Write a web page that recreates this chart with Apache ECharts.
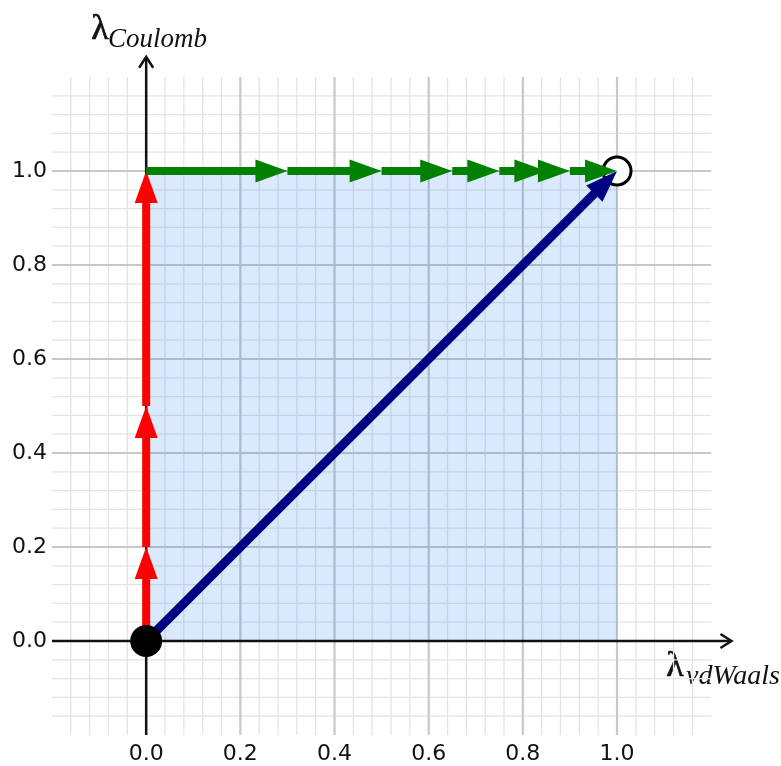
<!DOCTYPE html>
<html>
<head>
<meta charset="utf-8">
<script src="https://cdn.jsdelivr.net/npm/echarts@6/dist/echarts.min.js"></script>
<style>
html,body{margin:0;padding:0;background:#fff;}
#chart{width:781px;height:766px;}
</style>
</head>
<body>
<div id="chart"></div>
<script>
// ---- data ----
const tickLabels = [0.0, 0.2, 0.4, 0.6, 0.8, 1.0];
const majorTicks = [0.0, 0.2, 0.4, 0.6, 0.8, 1.0];
const minorTicks = [-0.16, -0.12, -0.08, -0.04, 0.04, 0.08, 0.12, 0.16, 0.24, 0.28, 0.32, 0.36,
  0.44, 0.48, 0.52, 0.56, 0.64, 0.68, 0.72, 0.76, 0.84, 0.88, 0.92, 0.96, 1.04, 1.08, 1.12, 1.16];
const gridExtent = [-0.2, 1.2];
const axisExtent = [-0.2, 1.243];
const fillRegion = [[0, 0], [1, 1]];
const redPath = [[0, 0], [0, 0.2], [0, 0.5], [0, 1.0]];
const greenPath = [[0, 1], [0.3, 1], [0.5, 1], [0.65, 1], [0.75, 1], [0.85, 1], [0.9, 1], [1.0, 1]];
const bluePath = [[0, 0], [1, 1]];
const startPoint = [[0, 0]];
const endPoint = [[1, 1]];

function toSegments(path) {
  const out = [];
  for (let i = 1; i < path.length; i++) out.push([path[i-1][0], path[i-1][1], path[i][0], path[i][1]]);
  return out;
}

function arrowSeries(path, color, width, z) {
  return {
    type: 'custom', z: z, silent: true,
    data: toSegments(path),
    renderItem: function (params, api) {
      const p0 = api.coord([api.value(0), api.value(1)]);
      const p1 = api.coord([api.value(2), api.value(3)]);
      const dx = p1[0] - p0[0], dy = p1[1] - p0[1];
      const L = Math.sqrt(dx*dx + dy*dy);
      const ux = dx / L, uy = dy / L;
      const headLen = 32, hw = 11.5;
      const bx = p1[0] - ux*headLen, by = p1[1] - uy*headLen;
      const children = [];
      if (L > headLen) {
        children.push({
          type: 'line',
          shape: {x1: p0[0], y1: p0[1], x2: bx + ux*1, y2: by + uy*1},
          style: {stroke: color, lineWidth: width, lineCap: 'butt'}
        });
      }
      children.push({
        type: 'polygon',
        shape: {points: [[p1[0], p1[1]], [bx - uy*hw, by + ux*hw], [bx + uy*hw, by - ux*hw]]},
        style: {fill: color}
      });
      return {type: 'group', children: children};
    }
  };
}

const chart = echarts.init(document.getElementById('chart'), null, {renderer: 'canvas'});

const labelFmt = function (v) {
  const r = Math.round(v * 10) / 10;
  return tickLabels.some(t => Math.abs(t - r) < 1e-9) && Math.abs(v - r) < 1e-9 ? r.toFixed(1) : '';
};

const option = {
  backgroundColor: '#ffffff',
  animation: false,
  grid: {left: 52, right: 46.25, top: 53.5, bottom: 31, containLabel: false, outerBoundsMode: 'none'},
  xAxis: {
    type: 'value', min: -0.2, max: 1.25, interval: 0.2,
    axisLine: {show: false}, axisTick: {show: false}, splitLine: {show: false},
    axisLabel: {formatter: labelFmt, fontFamily: 'DejaVu Sans', fontSize: 22, color: '#111', margin: 8, showMaxLabel: false}
  },
  yAxis: {
    type: 'value', min: -0.2, max: 1.25, interval: 0.2,
    axisLine: {show: false}, axisTick: {show: false}, splitLine: {show: false},
    axisLabel: {formatter: labelFmt, fontFamily: 'DejaVu Sans', fontSize: 22, color: '#111', margin: 5, showMaxLabel: false}
  },
  graphic: [
    {type: 'text', left: 91, top: 11, silent: true,
     style: {text: 'λ', font: '36px "Liberation Serif"', fill: '#111', stroke: '#111', lineWidth: 0.7}},
    {type: 'text', left: 108, top: 26, silent: true,
     style: {text: 'Coulomb', font: 'italic 27px "Liberation Serif"', fill: '#111'}},
    {type: 'text', left: 666, top: 648, silent: true,
     style: {text: 'λ', font: '36px "Liberation Serif"', fill: '#111', stroke: '#111', lineWidth: 0.7}},
    {type: 'text', left: 686, top: 663, silent: true,
     style: {text: 'vdWaals', font: 'italic 28px "Liberation Serif"', fill: '#111'}}
  ],
  series: [
    { // grid lines
      type: 'custom', z: 1, silent: true, data: [[0]],
      renderItem: function (params, api) {
        const ch = [];
        const addV = (x, color, w) => {
          const a = api.coord([x, gridExtent[0]]), b = api.coord([x, gridExtent[1]]);
          ch.push({type: 'line', shape: {x1: a[0], y1: a[1], x2: b[0], y2: b[1]}, style: {stroke: color, lineWidth: w}});
        };
        const addH = (y, color, w) => {
          const a = api.coord([gridExtent[0], y]), b = api.coord([gridExtent[1], y]);
          ch.push({type: 'line', shape: {x1: a[0], y1: a[1], x2: b[0], y2: b[1]}, style: {stroke: color, lineWidth: w}});
        };
        minorTicks.forEach(t => { addV(t, '#e4e4e4', 1.3); addH(t, '#e4e4e4', 1.3); });
        majorTicks.forEach(t => { addV(t, '#c8c8c8', 2.2); addH(t, '#c8c8c8', 2.2); });
        return {type: 'group', children: ch};
      }
    },
    { // filled region
      type: 'custom', z: 2, silent: true, data: [[fillRegion[0][0], fillRegion[0][1], fillRegion[1][0], fillRegion[1][1]]],
      renderItem: function (params, api) {
        const a = api.coord([api.value(0), api.value(3)]);
        const b = api.coord([api.value(2), api.value(1)]);
        return {type: 'rect', shape: {x: a[0], y: a[1], width: b[0] - a[0], height: b[1] - a[1]},
          style: {fill: 'rgba(15,108,235,0.15)'}};
      }
    },
    { // axes with open arrow heads
      type: 'custom', z: 3, silent: true, data: [[0]],
      renderItem: function (params, api) {
        const ch = [];
        const xa = api.coord([axisExtent[0], 0]), xb = api.coord([axisExtent[1], 0]);
        const ya = api.coord([0, axisExtent[0]]), yb = api.coord([0, axisExtent[1]]);
        const st = {stroke: '#111', lineWidth: 2.5, fill: null, lineJoin: 'miter'};
        ch.push({type: 'line', shape: {x1: xa[0], y1: xa[1], x2: xb[0] - 1, y2: xb[1]}, style: st});
        ch.push({type: 'line', shape: {x1: ya[0], y1: ya[1], x2: yb[0], y2: yb[1] + 1}, style: st});
        ch.push({type: 'polyline', shape: {points: [[xb[0] - 11, xb[1] - 7], [xb[0], xb[1]], [xb[0] - 11, xb[1] + 7]]}, style: st});
        ch.push({type: 'polyline', shape: {points: [[yb[0] - 7, yb[1] + 11], [yb[0], yb[1]], [yb[0] + 7, yb[1] + 11]]}, style: st});
        return {type: 'group', children: ch};
      }
    },
    {
      type: 'scatter', z: 4, silent: true, data: endPoint, symbol: 'circle', symbolSize: 28,
      itemStyle: {color: '#ffffff', borderColor: '#000', borderWidth: 3, opacity: 1}
    },
    arrowSeries(bluePath, '#000080', 9, 5),
    arrowSeries(redPath, '#ff0000', 8, 5),
    arrowSeries(greenPath, '#008000', 8, 5),
    {
      type: 'scatter', z: 6, silent: true, data: startPoint, symbol: 'circle', symbolSize: 32,
      itemStyle: {color: '#000000', opacity: 1}
    }
  ]
};
chart.setOption(option);
</script>
</body>
</html>
